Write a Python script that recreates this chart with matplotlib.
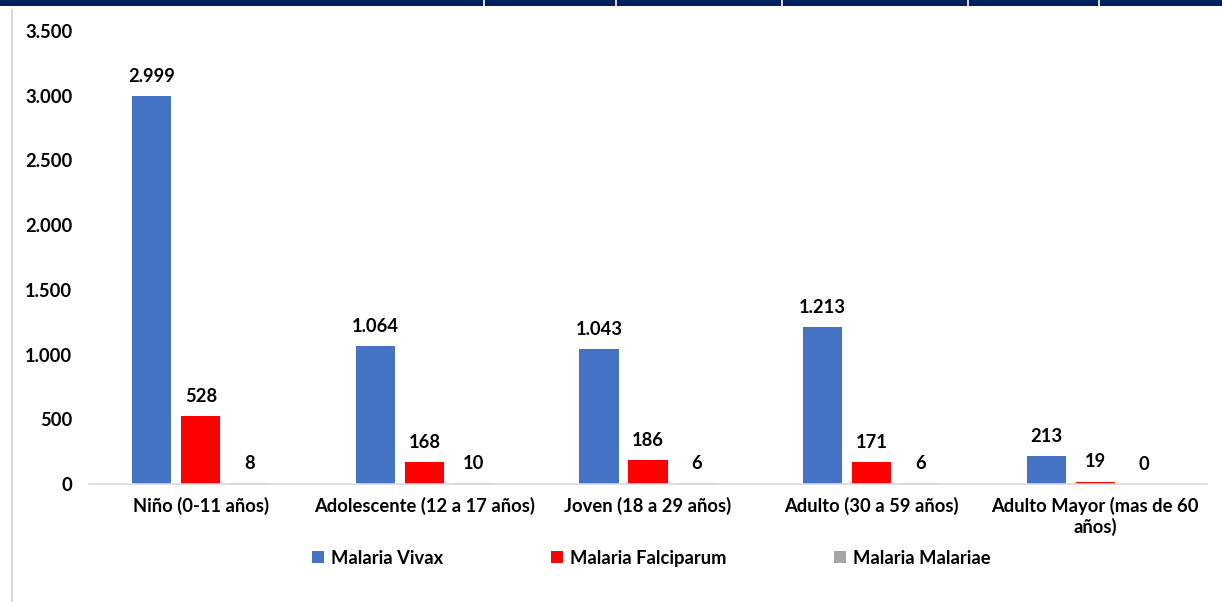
import matplotlib
matplotlib.use("Agg")
import matplotlib.pyplot as plt
from matplotlib.ticker import FuncFormatter
import numpy as np

categories = ["Niño (0-11 años)", "Adolescente (12 a 17 años)", "Joven (18 a 29 años)",
              "Adulto (30 a 59 años)", "Adulto Mayor (mas de 60\naños)"]
series_names = ["Malaria Vivax", "Malaria Falciparum", "Malaria Malariae"]
vivax = [2999, 1064, 1043, 1213, 213]
falciparum = [528, 168, 186, 171, 19]
malariae = [8, 10, 6, 6, 0]
colors = ["#4472C4", "#FF0000", "#A5A5A5"]

plt.rcParams['font.family'] = ['Lato', 'DejaVu Sans']
plt.rcParams['font.weight'] = 'bold'
FS = 13.2

fig = plt.figure(figsize=(12.22, 6.02), dpi=100)
ax = fig.add_axes([89/1222, 118/602, 1118/1222, 453/602])

x = np.arange(len(categories))
width = 0.175
offsets = [-0.219, 0.0, 0.219]
fmt = lambda v: f"{v:,.0f}".replace(",", ".")
for vals, off, col, name in zip([vivax, falciparum, malariae], offsets, colors, series_names):
    bars = ax.bar(x + off, vals, width, color=col, label=name)
    for b, v in zip(bars, vals):
        ax.annotate(fmt(v), (b.get_x() + b.get_width()/2, v), xytext=(0, 8),
                    textcoords="offset points", ha="center", va="bottom",
                    fontsize=FS, fontweight="bold")

ax.set_xlim(-0.5, len(categories) - 0.5)
ax.set_ylim(0, 3500)
ax.set_yticks(np.arange(0, 3501, 500))
ax.yaxis.set_major_formatter(FuncFormatter(lambda v, p: fmt(v)))
ax.set_xticks(x)
ax.set_xticklabels(categories, fontsize=FS, fontweight="bold")
ax.tick_params(axis='both', length=0, labelsize=FS)
ax.tick_params(axis='y', pad=12)
ax.tick_params(axis='x', pad=9)
for s in ["top", "right", "left"]:
    ax.spines[s].set_visible(False)
ax.spines["bottom"].set_color("#D9D9D9")
ax.spines["bottom"].set_linewidth(1.2)

leg = ax.legend(loc="center", bbox_to_anchor=(0.503, -0.164), ncol=3, frameon=False,
                fontsize=FS, handlelength=0.65, handleheight=0.65, columnspacing=5.9,
                handletextpad=0.35)

# top navy band with separators
band = fig.add_axes([0, 1 - 6/602, 1, 6/602])
band.set_xlim(0, 1222)
band.set_ylim(0, 1)
band.axis("off")
band.axhspan(0, 1, color="#002060")
for sx in [484, 616, 782, 968, 1099]:
    band.axvline(sx, color="white", lw=1.2)
# left border line
fig.add_artist(plt.Line2D([12/1222, 12/1222], [0, 1 - 10/602], color="#D0D0D0", lw=1.2,
                          transform=fig.transFigure))

fig.savefig("out.png", dpi=100)
